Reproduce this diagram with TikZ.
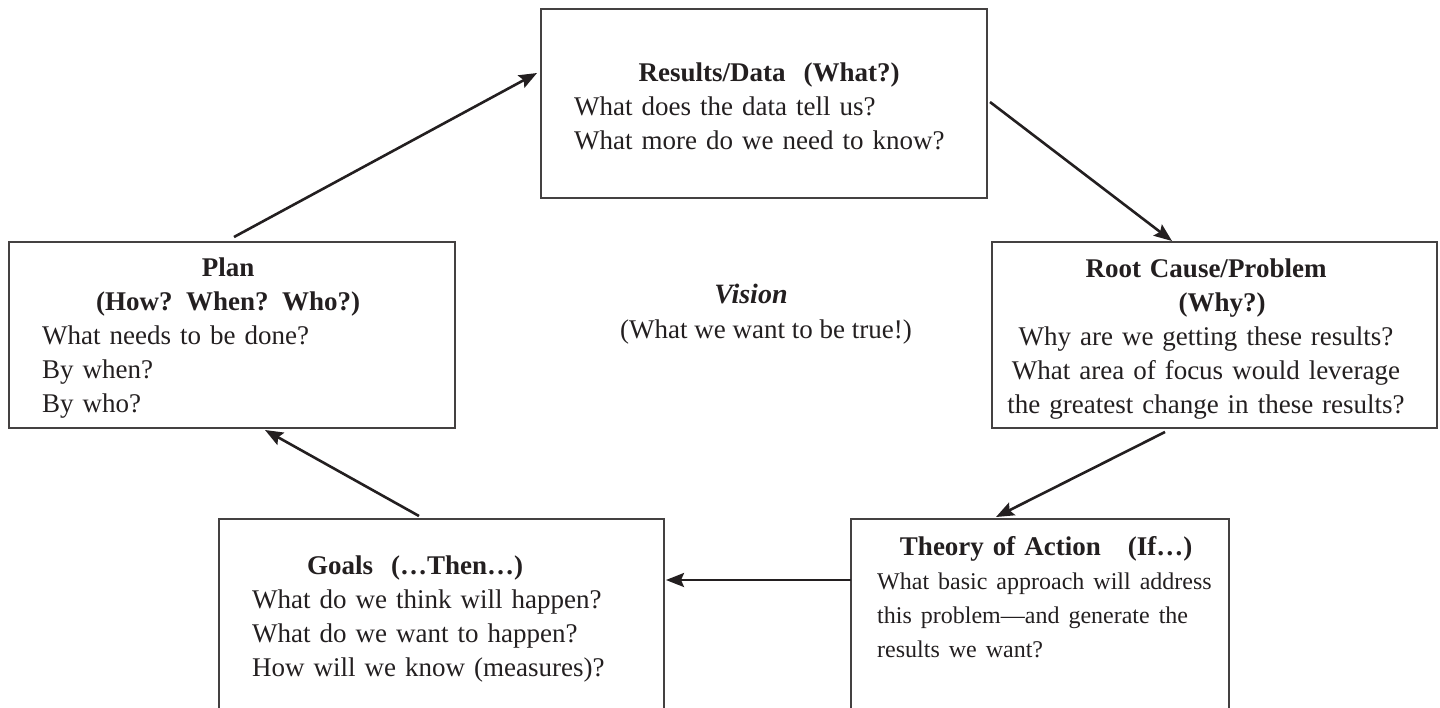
\documentclass[tikz,border=0pt]{standalone}
\usepackage{fontspec}
\setmainfont{Liberation Serif}
\usetikzlibrary{positioning,arrows.meta}

\definecolor{ink}{RGB}{35,31,32}

\tikzset{
  stage/.style={draw=ink!85, line width=1.6pt, anchor=north west,
    inner sep=0pt, outer sep=0pt},
  words/.style={anchor=base west, align=left, inner sep=0pt, text=ink,
    font=\fontsize{27}{34}\selectfont},
  loop arrow/.style={draw=ink, line width=2.6pt,
    -{Stealth[length=18pt,width=14pt,inset=3pt]}},
}

\begin{document}
\begin{tikzpicture}[x=1pt, y=-1pt]
  \useasboundingbox (0,0) rectangle (1440,707);
  \clip (0,0) rectangle (1440,707);

  % boxes
  \node[stage, minimum width=446pt, minimum height=189pt] (results) at (541,9)   {};
  \node[stage, minimum width=446pt, minimum height=186pt] (plan)    at (9,242)   {};
  \node[stage, minimum width=445pt, minimum height=186pt] (root)    at (992,242) {};
  \node[stage, minimum width=445pt, minimum height=200pt] (goals)   at (219,519) {};
  \node[stage, minimum width=378pt, minimum height=200pt] (theory)  at (851,519) {};

  % texts
  \node[words, text width=420pt] (results-text) at (574,81)
    {\makebox[390pt]{\bfseries Results/Data\ \ (What?)}\\
     What does the data tell us?\\
     What more do we need to know?};
  \node[words, text width=420pt] (plan-text) at (42,276)
    {\makebox[372pt]{\bfseries Plan}\\
     \makebox[372pt]{\bfseries (How? When? Who?)}\\
     What needs to be done?\\
     By when?\\
     By who?};
  \node[words, text width=440pt, align=center, anchor=base] (root-text) at (1206,277)
    {{\bfseries Root Cause/Problem}\\
     \hspace*{32pt}{\bfseries (Why?)}\\
     Why are we getting these results?\\
     What area of focus would leverage\\
     the greatest change in these results?};
  \node[words, text width=400pt] (goals-text) at (252,574)
    {\makebox[326pt]{\bfseries Goals\ \ (…Then…)}\\
     What do we think will happen?\\
     What do we want to happen?\\
     How will we know (measures)?};
  \node[words, text width=420pt] (theory-text) at (877,555)
    {\makebox[338pt]{\bfseries Theory of Action\ \ \ (If…)}\\
     \fontsize{24}{34}\selectfont
     \mbox{What basic approach will address}\\
     \mbox{this problem—and generate the}\\
     results we want?};

  % centre
  \node[anchor=base, inner sep=0pt, text=ink,
    font=\fontsize{28}{34}\selectfont\bfseries\itshape] (vision) at (751,303) {Vision};
  \node[words, anchor=base] (vision-note) at (766,338) {(What we want to be true!)};

  % the cycle
  \draw[loop arrow] ([shift={(225,-5)}]plan.north west)  -- ([shift={(-4,64)}]results.north west);
  \draw[loop arrow] ([shift={(3,93)}]results.north east) -- ([shift={(180,-1)}]root.north west);
  \draw[loop arrow] ([shift={(173,4)}]root.south west)   -- ([shift={(145,-2)}]theory.north west);
  \draw[loop arrow] ([shift={(0,61)}]theory.north west)  -- ([shift={(2,61)}]goals.north east);
  \draw[loop arrow] ([shift={(200,-3)}]goals.north west) -- ([shift={(256,2)}]plan.south west);
\end{tikzpicture}
\end{document}
